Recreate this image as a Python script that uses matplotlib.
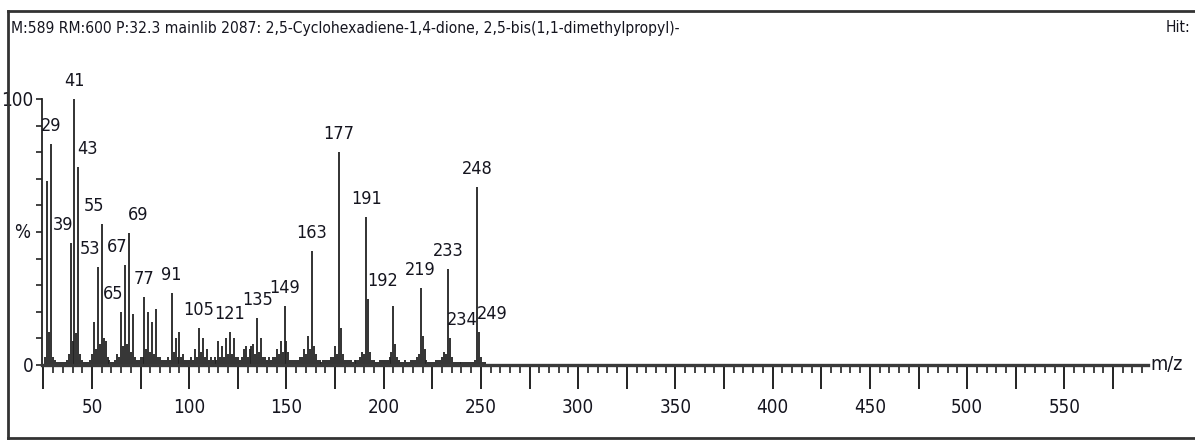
import matplotlib
matplotlib.use("Agg")
import matplotlib.pyplot as plt
from matplotlib import font_manager
from matplotlib.ticker import MultipleLocator, FuncFormatter
from matplotlib.lines import Line2D

# spectrum: m/z and relative intensity (%)
mz = list(range(26, 253))
intensity = [
    3, 69, 12.5, 83, 3, 2, 1, 1, 1, 1, 1, 2, 4, 46, 9, 100, 12, 74.5, 4, 2,   # 26-45
    1, 1, 1, 2, 4, 16, 6, 37, 8, 53, 10, 9, 3, 2, 1, 1, 2, 4, 3, 20,          # 46-65
    7, 37.5, 8, 49.5, 5, 19, 3, 2, 2, 3, 3, 25.5, 6, 20, 5, 16, 4, 21, 3, 3,  # 66-85
    2, 2, 2, 3, 2, 27, 5, 10, 3, 12.5, 3, 4, 2, 2, 2, 3, 2, 6, 3, 14,         # 86-105
    5, 10, 3, 6, 2, 3, 2, 3, 2, 9, 3, 7, 3, 10, 4, 12.5, 4, 10, 3, 3,         # 106-125
    2, 3, 6, 7, 3, 6, 7, 8, 4, 17.5, 5, 10, 3, 3, 2, 3, 2, 3, 3, 6,           # 126-145
    4, 9, 5, 22, 9, 5, 2, 2, 2, 2, 2, 3, 3, 6, 4, 11, 6, 43, 7, 4,            # 146-165
    2, 2, 1, 2, 2, 2, 2, 3, 3, 7, 4, 80, 14, 4, 2, 2, 2, 2, 1, 2,             # 166-185
    2, 2, 3, 5, 4, 55.5, 25, 5, 2, 2, 1, 1, 2, 2, 2, 2, 2, 3, 5, 22,          # 186-205
    8, 3, 2, 1, 1, 2, 1, 1, 2, 2, 2, 3, 4, 29, 11, 6, 2, 1, 1, 1,             # 206-225
    1, 2, 2, 2, 3, 5, 4, 36, 10, 3, 1, 1, 1, 1, 1, 1, 1, 1, 1, 1,             # 226-245
    1, 2, 67, 12.5, 3, 1, 1,                                                  # 246-252
]

label_mz = [29, 39, 41, 43, 53, 55, 65, 67, 69, 77, 91, 105, 121, 135,
            149, 163, 177, 191, 192, 219, 233, 234, 248, 249]
label_dx = [0, -8, 0, 9, -8, -8, -8, -8, 9, 0, 0, 0, 0, 0,
            0, 0, 0, 0, 14, 0, 0, 12, 0, 13]

title = ("M:589 RM:600 P:32.3 mainlib 2087: 2,5-Cyclohexadiene-1,4-dione, "
         "2,5-bis(1,1-dimethylpropyl)-")

names = {f.name for f in font_manager.fontManager.ttflist}
if "Liberation Sans Narrow" in names:
    fam, stretch = "Liberation Sans Narrow", "normal"
else:
    fam, stretch = "DejaVu Sans", "condensed"
plt.rcParams["font.family"] = fam
plt.rcParams["font.stretch"] = stretch

W, H = 1195, 441
fs = 13
fig = plt.figure(figsize=(W / 100, H / 100), dpi=100)
ax = fig.add_axes([42 / W, (H - 365) / H, (1148 - 42) / W, (365 - 99) / H])

txt = "#15151f"
ax.vlines(mz, 0, intensity, color="#222222", lw=1.3)

lookup = dict(zip(mz, intensity))
for m, dx in zip(label_mz, label_dx):
    ax.annotate(str(m), (m, lookup[m]), xytext=(dx, 18), textcoords="offset pixels",
                ha="center", va="center", fontsize=fs, color=txt)

ax.set_xlim(24.3, 593)
ax.set_ylim(0, 100)
for s in ["top", "right"]:
    ax.spines[s].set_visible(False)
ax.spines["bottom"].set_linewidth(2.4)
ax.spines["bottom"].set_color("#3a3a3a")
ax.spines["left"].set_linewidth(1.3)
ax.spines["left"].set_color("#222222")

ax.xaxis.set_major_locator(MultipleLocator(25))
ax.xaxis.set_minor_locator(MultipleLocator(5))
ax.xaxis.set_major_formatter(FuncFormatter(lambda v, p: f"{int(v)}" if v % 50 == 0 else ""))
ax.tick_params(axis="x", which="major", length=17, width=1.4, color="#222222",
               labelsize=fs + 0.5, labelcolor=txt, pad=7)
ax.tick_params(axis="x", which="minor", length=6, width=1.2, color="#222222")

ax.yaxis.set_major_locator(MultipleLocator(10))
ax.yaxis.set_major_formatter(FuncFormatter(lambda v, p: f"{int(v)}" if v in (0, 100) else ""))
ax.tick_params(axis="y", which="major", length=4, width=1.2, color="#222222",
               labelsize=fs + 0.5, labelcolor=txt, pad=2)
ax.text(-0.011, 0.5, "%", transform=ax.transAxes, ha="right", va="center",
        fontsize=fs + 0.5, color=txt)
ax.text(1.002, 0.0, "m/z", transform=ax.transAxes, ha="left", va="center",
        fontsize=fs + 1, color=txt)

# outer frame
fig.add_artist(Line2D([8 / W, 1], [(H - 11) / H] * 2, transform=fig.transFigure,
                      color="#333333", lw=2))
fig.add_artist(Line2D([8 / W, 8 / W], [(H - 11) / H, (H - 438) / H],
                      transform=fig.transFigure, color="#333333", lw=2))
fig.add_artist(Line2D([8 / W, 1], [(H - 438) / H] * 2, transform=fig.transFigure,
                      color="#333333", lw=2))

fig.text(11 / W, (H - 28) / H, title, ha="left", va="center", fontsize=11.2, color=txt)
fig.text(1190 / W, (H - 28) / H, "Hit:", ha="right", va="center", fontsize=11.2, color=txt)

fig.savefig("out.png", dpi=100)
